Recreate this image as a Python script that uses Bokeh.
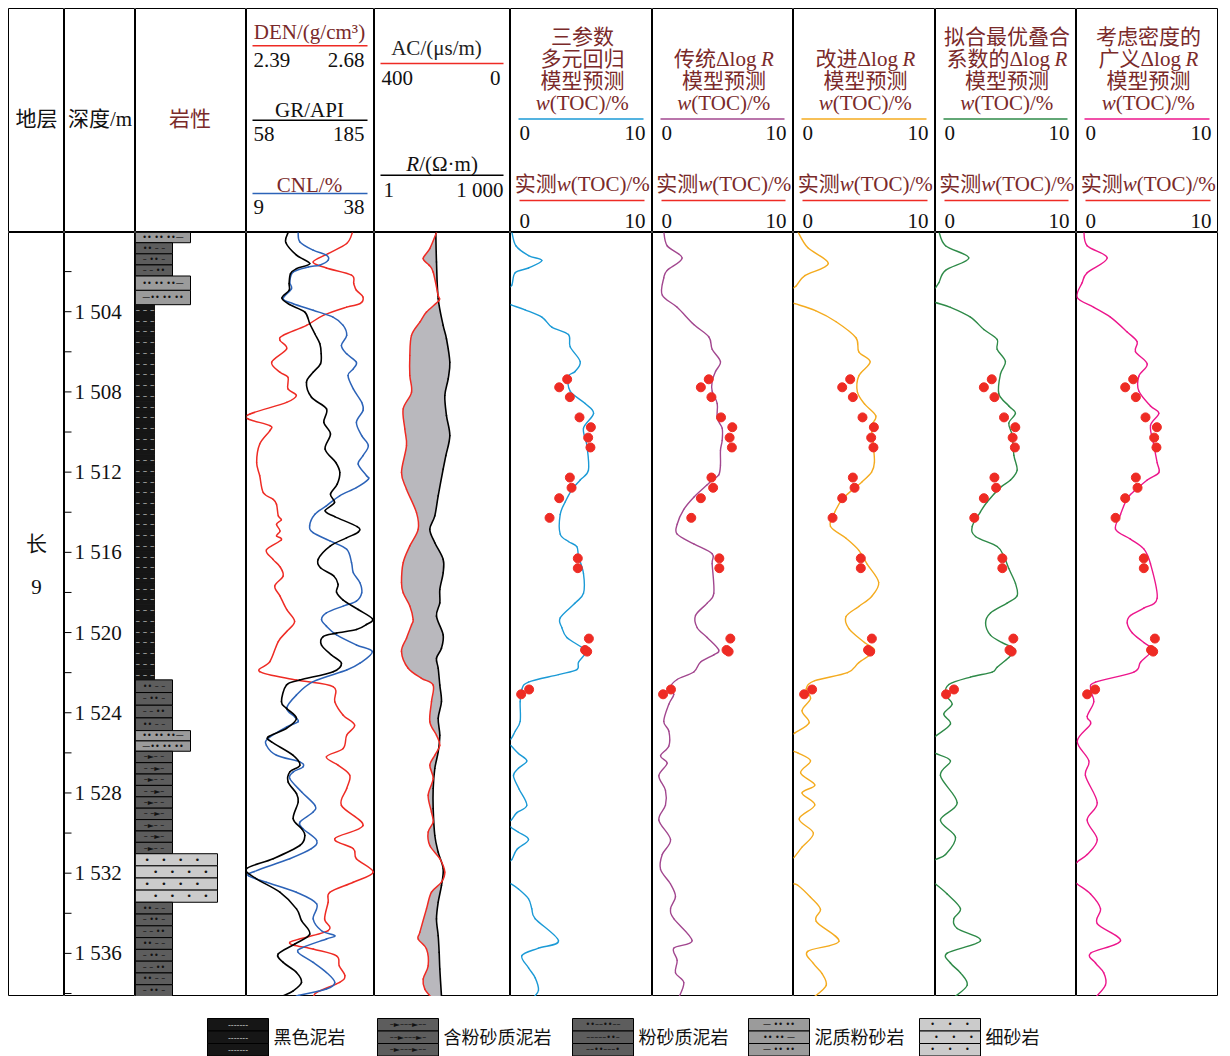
import numpy as np
from bokeh.plotting import figure
from bokeh.layouts import row, column
from bokeh.models import Range1d, LogScale
from bokeh.core.properties import value
from bokeh.embed import file_html
from bokeh.resources import INLINE

# ---------------- data ----------------
DEPTH_TOP, DEPTH_BOT = 1500.05, 1538.15
DEPTH_TICKS = list(range(1502, 1539, 2))
DEPTH_LABELS = list(range(1504, 1537, 4))

LITH_TOP = [1500.05, 1500.56, 1502.22, 1503.65, 1522.36, 1524.89, 1525.92, 1531.03, 1533.45]
LITH_BOT = [1500.56, 1502.22, 1503.65, 1522.36, 1524.89, 1525.92, 1531.03, 1533.45, 1538.15]
LITH_TYPE = ["泥质粉砂岩", "粉砂质泥岩", "泥质粉砂岩", "黑色泥岩", "粉砂质泥岩",
             "泥质粉砂岩", "含粉砂质泥岩", "细砂岩", "粉砂质泥岩"]
LEGEND_TYPES = ["黑色泥岩", "含粉砂质泥岩", "粉砂质泥岩", "泥质粉砂岩", "细砂岩"]

# (depth m, value)
GR = [(1500.05,99.3),(1500.55,97.0),(1501.18,107.6),(1501.60,120.8),(1501.85,107.6),(1502.10,101.7),
      (1502.60,100.3),(1502.93,100.3),(1503.32,93.1),(1503.65,101.0),(1504.02,115.9),(1504.60,120.8),
      (1505.10,125.8),(1505.60,130.8),(1506.10,132.1),(1506.60,131.4),(1507.02,124.1),(1507.52,117.5),
      (1508.27,122.5),(1508.85,137.4),(1509.52,134.7),(1510.10,141.3),(1510.85,136.0),(1511.52,146.6),
      (1512.02,150.6),(1512.60,148.0),(1513.10,141.3),(1513.52,145.3),(1513.93,136.0),(1514.22,145.6),
      (1514.72,167.8),(1514.98,169.1),(1515.28,157.2),(1515.68,141.3),(1516.35,129.1),(1516.77,131.4),
      (1517.18,144.6),(1517.60,148.9),(1517.98,147.3),(1518.38,153.9),(1518.85,168.8),(1519.32,183.0),
      (1519.60,177.0),(1519.85,167.1),(1520.03,147.3),(1520.20,134.1),(1520.62,132.4),(1521.12,142.3),
      (1521.53,152.2),(1521.95,144.0),(1522.37,110.9),(1522.62,97.7),(1523.45,92.7),(1523.78,97.7),
      (1524.28,107.6),(1524.78,97.7),(1525.20,79.5),(1525.45,82.8),(1526.12,104.3),(1526.62,110.9),
      (1526.95,101.0),(1527.45,99.3),(1528.03,107.6),(1528.45,109.3),(1529.28,104.3),(1529.78,112.6),
      (1530.12,115.9),(1530.62,110.9),(1531.28,84.5),(1531.78,58.0),(1532.28,67.9),(1532.95,91.1),
      (1533.78,107.6),(1534.37,112.6),(1535.03,120.8),(1535.53,106.0),(1536.03,89.4),(1536.45,94.4),
      (1536.95,107.6),(1537.45,112.6),(1537.87,104.3),(1538.12,94.4)]

CNL = [(1500.05,20.7),(1500.52,21.1),(1500.93,24.1),(1501.18,27.1),(1501.43,27.5),(1501.68,25.6),
       (1501.77,23.0),(1502.02,19.6),(1502.52,18.8),(1502.85,19.2),(1503.35,17.3),(1503.60,19.6),
       (1503.93,24.1),(1504.27,28.6),(1504.68,30.9),(1505.18,31.7),(1505.68,30.5),(1506.10,31.7),
       (1506.52,33.9),(1506.85,33.2),(1507.18,32.0),(1507.85,33.2),(1508.52,35.1),(1508.93,35.4),
       (1509.52,33.9),(1510.18,35.1),(1510.68,36.6),(1511.18,35.4),(1511.60,34.3),(1512.18,36.2),
       (1512.35,36.6),(1512.77,33.9),(1513.18,30.1),(1513.68,27.1),(1514.10,24.5),(1514.68,23.3),
       (1515.02,24.1),(1515.43,27.9),(1515.85,31.7),(1516.52,32.8),(1517.02,33.2),(1517.52,34.7),
       (1518.02,35.1),(1518.43,33.9),(1518.68,30.9),(1519.02,27.1),(1519.35,26.0),(1519.68,27.1),
       (1520.12,29.4),(1520.62,33.9),(1520.95,37.5),(1521.53,34.7),(1521.87,31.7),(1522.45,24.1),
       (1523.12,20.3),(1523.78,18.1),(1524.20,19.9),(1524.45,20.7),(1524.70,18.1),(1525.28,13.9),
       (1525.62,13.5),(1526.12,15.8),(1526.45,21.1),(1526.70,21.8),(1526.95,19.6),(1527.28,18.8),
       (1527.95,21.5),(1528.62,24.5),(1528.95,24.1),(1529.45,21.1),(1529.78,21.8),(1530.37,24.9),
       (1530.78,23.7),(1531.28,18.8),(1531.87,11.3),(1532.12,9.4),(1532.45,13.5),(1532.95,20.3),
       (1533.53,24.9),(1534.28,24.1),(1534.87,26.0),(1535.12,29.0),(1535.28,27.1),(1535.70,21.8),
       (1535.95,20.7),(1536.45,24.1),(1536.95,27.1),(1537.45,29.0),(1537.78,27.1),(1538.12,20.3)]

DEN = [(1500.05,2.630),(1500.60,2.617),(1501.10,2.575),(1501.52,2.541),(1501.82,2.571),(1502.18,2.628),
       (1502.60,2.633),(1502.93,2.639),(1503.27,2.654),(1503.60,2.647),(1503.77,2.617),(1504.18,2.564),
       (1504.68,2.526),(1505.18,2.473),(1505.43,2.466),(1505.85,2.481),(1506.52,2.447),(1507.02,2.466),
       (1507.27,2.484),(1507.85,2.484),(1508.18,2.503),(1508.52,2.481),(1509.10,2.398),(1509.35,2.394),
       (1509.68,2.443),(1509.93,2.443),(1510.60,2.420),(1511.52,2.413),(1512.18,2.420),(1513.02,2.428),
       (1513.35,2.450),(1513.60,2.458),(1514.18,2.462),(1514.38,2.469),(1514.60,2.458),(1514.93,2.466),
       (1515.18,2.458),(1515.38,2.469),(1515.88,2.435),(1516.35,2.450),(1516.72,2.466),(1517.18,2.473),
       (1517.68,2.454),(1518.18,2.466),(1518.85,2.481),(1519.45,2.499),(1519.95,2.481),(1520.45,2.462),
       (1521.45,2.443),(1521.95,2.420),(1522.37,2.503),(1522.70,2.586),(1523.45,2.590),(1524.12,2.609),
       (1524.62,2.635),(1525.12,2.617),(1525.78,2.609),(1526.20,2.571),(1526.62,2.598),(1527.12,2.624),
       (1527.78,2.617),(1528.62,2.605),(1529.62,2.654),(1530.28,2.590),(1530.78,2.632),(1531.28,2.639),
       (1531.95,2.677),(1532.45,2.632),(1532.95,2.579),(1533.45,2.575),(1534.28,2.567),(1534.87,2.575),
       (1535.45,2.488),(1535.78,2.541),(1536.12,2.594),(1536.62,2.600),(1537.12,2.613),(1537.45,2.601),
       (1537.95,2.549),(1538.28,2.541)]

AC = [(1500.05,217.7),(1500.85,237.3),(1501.35,256.9),(1501.68,239.2),(1502.02,227.5),(1503.18,212.8),
      (1503.43,209.9),(1504.02,247.1),(1504.52,266.7),(1505.18,291.2),(1506.18,296.1),(1507.18,296.1),
      (1508.02,291.2),(1508.85,315.7),(1509.85,310.8),(1510.68,305.9),(1512.02,320.6),(1512.85,305.9),
      (1514.02,276.5),(1514.85,271.6),(1515.68,296.1),(1516.52,315.7),(1517.52,320.6),(1518.02,315.7),
      (1518.68,296.1),(1519.35,286.3),(1519.62,291.2),(1520.28,305.9),(1520.95,320.6),(1521.78,301.0),
      (1522.28,261.8),(1522.62,227.5),(1523.45,232.4),(1524.45,237.3),(1525.12,217.7),(1525.62,207.9),
      (1526.12,222.6),(1526.62,237.3),(1527.28,227.5),(1528.12,242.2),(1528.95,232.4),(1529.45,227.5),
      (1529.95,242.2),(1530.62,237.3),(1531.28,207.9),(1531.95,193.2),(1532.45,203.0),(1532.95,232.4),
      (1533.78,247.1),(1534.95,266.7),(1535.28,271.6),(1535.78,247.1),(1536.62,242.2),(1537.28,256.9),
      (1537.78,252.0),(1538.20,232.4)]

RES = [(1500.05,22.5),(1501.52,23.3),(1503.35,25.4),(1504.68,32.7),(1505.35,38.7),(1506.52,45.9),
       (1507.35,42.2),(1508.18,35.6),(1509.18,38.7),(1510.18,45.9),(1511.18,37.5),(1511.85,32.7),
       (1513.18,25.4),(1514.18,21.4),(1514.85,16.6),(1515.52,21.4),(1516.35,32.7),(1517.02,32.7),
       (1517.85,27.6),(1518.52,27.6),(1519.18,23.3),(1520.12,32.7),(1520.78,30.0),(1521.28,23.3),
       (1521.78,25.4),(1522.62,27.6),(1523.45,30.0),(1524.28,25.4),(1525.12,27.6),(1525.95,25.4),
       (1526.78,21.4),(1527.78,19.7),(1528.78,19.7),(1530.12,21.4),(1530.95,25.4),(1531.78,32.7),
       (1532.62,30.0),(1533.45,25.4),(1534.28,23.3),(1535.12,25.4),(1535.95,26.7),(1536.78,27.6),
       (1538.12,30.0)]

TOC_MEAS_DEPTH = [1507.37, 1507.77, 1508.26, 1509.27, 1509.76, 1510.28, 1510.77, 1512.27, 1512.78,
                  1513.30, 1514.28, 1516.30, 1516.79, 1520.30, 1520.87, 1520.95, 1522.84, 1523.08]
TOC_MEAS = [3.99, 3.43, 4.18, 4.86, 5.66, 5.47, 5.63, 4.18, 4.30,
            3.43, 2.75, 4.74, 4.74, 5.52, 5.25, 5.40, 1.31, 0.75]

TOC_MLR = [(1500.0,0.09),(1500.71,0.38),(1501.20,1.27),(1501.45,2.21),(1501.82,1.27),(1502.06,0.33),
           (1502.68,0.09),(1502.92,-0.3),(1503.54,-0.3),(1503.66,0.05),(1503.91,1.03),(1504.27,2.21),
           (1504.77,2.91),(1505.14,4.08),(1505.75,4.20),(1506.49,4.91),(1506.98,4.55),(1507.22,4.08),
           (1507.96,4.20),(1508.58,5.26),(1509.07,5.85),(1509.81,5.14),(1510.67,5.38),(1511.90,5.49),
           (1512.39,4.91),(1512.88,4.32),(1513.49,3.85),(1514.11,3.50),(1515.09,3.50),(1515.46,4.08),
           (1515.71,4.67),(1516.20,4.79),(1517.06,5.14),(1518.04,5.14),(1518.53,4.55),(1519.27,3.50),
           (1519.76,3.62),(1520.25,3.97),(1520.74,5.02),(1520.99,5.31),(1521.48,4.79),(1521.85,4.67),
           (1522.10,3.38),(1522.47,1.27),(1522.83,0.80),(1523.45,0.68),(1524.43,0.68),(1524.92,0.33),
           (1525.29,0.05),(1525.46,-0.3),(1525.66,0.05),(1526.03,0.56),(1526.40,1.15),(1526.77,0.56),
           (1527.14,0.21),(1527.80,0.60),(1528.61,1.15),(1528.98,0.45),(1529.35,0.05),(1529.52,-0.3),
           (1529.72,0.05),(1529.96,0.56),(1530.33,1.27),(1530.82,0.45),(1531.32,0.09),(1531.56,-0.3),
           (1532.42,-0.3),(1532.54,0.05),(1532.79,0.56),(1533.28,1.27),(1533.77,1.50),(1534.27,1.74),
           (1535.37,3.38),(1535.74,1.97),(1536.11,0.80),(1536.72,1.27),(1537.22,1.74),(1537.83,1.97),
           (1538.20,1.62)]

TOC_DLOGR = [(1500.0,0.80),(1500.71,1.04),(1501.32,2.10),(1501.94,1.04),(1502.31,0.80),(1503.17,0.69),
             (1503.78,1.75),(1504.64,2.93),(1505.26,4.00),(1505.87,4.23),(1506.49,4.82),(1506.98,4.47),
             (1507.47,4.23),(1507.96,4.23),(1508.58,4.59),(1509.31,4.59),(1509.81,4.94),(1510.42,4.94),
             (1510.91,4.82),(1511.65,4.82),(1512.14,4.70),(1512.39,4.23),(1512.63,3.88),(1513.25,2.93),
             (1513.86,2.22),(1514.60,1.75),(1515.09,1.75),(1515.58,2.93),(1516.07,4.23),(1516.57,4.23),
             (1518.04,4.35),(1518.53,3.88),(1519.15,3.05),(1519.76,3.17),(1520.25,3.88),(1520.87,4.70),
             (1521.11,4.35),(1521.48,3.40),(1521.97,2.93),(1522.34,1.75),(1522.71,1.28),(1523.08,1.51),
             (1523.57,1.16),(1524.43,0.80),(1524.92,1.16),(1525.66,1.16),(1526.15,0.57),(1526.52,1.04),
             (1527.14,0.45),(1527.87,0.92),(1528.61,0.92),(1529.35,0.45),(1530.33,1.28),(1531.07,0.69),
             (1531.81,0.57),(1532.54,1.28),(1533.16,1.63),(1533.77,1.28),(1534.27,1.51),(1535.37,2.81),
             (1535.74,1.51),(1536.35,1.75),(1536.97,1.63),(1537.46,2.22),(1538.20,1.87)]

TOC_IMPROVED = [(1500.0,0.3),(1500.8,1.0),(1501.6,2.45),(1502.2,0.8),(1502.7,0.2),(1503.0,-0.3),
                (1503.5,-0.3),(1503.6,0.1),(1503.95,1.55),(1504.5,3.0),(1505.3,4.4),(1506.0,4.6),
                (1506.5,5.4),(1507.2,4.6),(1508.0,4.5),(1508.6,5.0),(1509.2,5.8),(1509.7,5.5),
                (1510.5,5.6),(1511.5,5.7),(1512.0,5.5),(1512.5,4.8),(1513.3,3.5),(1514.0,2.9),
                (1514.7,2.6),(1515.3,3.7),(1515.9,4.6),(1516.6,5.2),(1517.5,6.0),(1518.2,5.5),
                (1518.7,4.6),(1519.2,3.7),(1519.8,3.9),(1520.5,5.0),(1520.9,5.7),(1521.5,4.6),
                (1522.0,3.8),(1522.4,1.5),(1522.8,0.9),(1523.3,1.2),(1523.9,0.6),(1524.5,1.1),
                (1525.0,0.1),(1525.2,-0.3),(1525.8,-0.3),(1526.0,0.3),(1526.4,1.2),(1527.0,0.5),
                (1527.6,1.5),(1528.0,0.6),(1528.6,1.5),(1529.3,0.4),(1530.0,1.4),(1530.7,0.6),
                (1531.2,0.05),(1531.4,-0.3),(1532.4,-0.3),(1532.6,0.3),(1533.2,1.2),(1533.8,1.9),
                (1534.4,1.6),(1535.4,3.2),(1535.9,1.0),(1536.5,1.4),(1537.0,2.0),(1537.6,2.3),
                (1538.2,1.4)]

TOC_FIT = [(1500.0,0.24),(1500.71,0.71),(1501.32,2.36),(1501.94,0.71),(1502.55,0.24),(1502.80,0.0),
           (1503.05,-0.3),(1503.41,-0.3),(1503.54,0.0),(1503.78,1.06),(1504.27,2.48),(1504.89,3.43),
           (1505.38,4.37),(1505.87,4.37),(1506.49,4.96),(1507.10,4.61),(1508.09,4.49),(1508.70,5.20),
           (1509.07,5.67),(1509.56,5.20),(1510.17,5.44),(1511.16,5.56),(1511.90,5.79),(1512.39,5.32),
           (1512.76,4.61),(1513.49,3.66),(1513.98,3.19),(1514.72,2.60),(1515.21,2.84),(1515.71,4.37),
           (1516.20,4.85),(1516.81,5.20),(1517.55,5.67),(1518.16,5.79),(1518.53,5.08),(1519.02,3.90),
           (1519.52,3.55),(1520.13,3.90),(1520.50,4.73),(1520.87,5.67),(1521.24,5.20),(1521.73,4.37),
           (1521.97,4.02),(1522.22,2.48),(1522.59,0.95),(1523.08,0.71),(1523.57,1.18),(1524.06,0.59),
           (1524.56,1.06),(1525.17,0.0),(1525.42,-0.3),(1525.91,-0.3),(1526.03,0.0),(1526.40,1.06),
           (1527.14,0.35),(1528.49,1.54),(1529.35,0.35),(1530.21,1.42),(1531.07,0.71),(1531.32,0.0),
           (1531.56,-0.3),(1532.42,-0.3),(1532.54,0.0),(1533.04,0.83),(1533.77,1.77),(1534.27,1.30),
           (1534.76,1.54),(1535.37,3.19),(1535.99,0.83),(1536.48,1.06),(1536.97,1.77),(1537.58,2.25),
           (1538.20,1.30)]

TOC_GEN = [(1500.0,0.52),(1500.71,0.75),(1501.32,2.16),(1502.06,0.75),(1502.55,0.40),(1503.29,0.05),
           (1503.78,1.22),(1504.27,2.39),(1505.01,3.57),(1505.50,4.27),(1505.99,4.15),(1506.61,4.98),
           (1507.22,4.39),(1507.96,4.39),(1508.70,5.21),(1509.07,5.80),(1509.68,5.21),(1510.67,5.45),
           (1511.53,5.68),(1512.02,5.80),(1512.39,4.98),(1513.12,3.80),(1513.49,3.45),(1514.11,3.10),
           (1514.85,2.75),(1515.34,3.80),(1515.83,4.74),(1516.57,5.21),(1518.29,5.68),(1518.78,4.74),
           (1519.15,3.80),(1519.52,3.57),(1520.01,3.92),(1520.50,4.74),(1520.87,5.33),(1521.48,4.51),
           (1521.97,4.04),(1522.47,1.34),(1522.83,0.99),(1523.45,1.22),(1524.19,0.75),(1524.56,0.99),
           (1525.42,0.05),(1526.40,0.87),(1527.14,0.63),(1528.49,1.46),(1529.35,0.75),(1530.33,1.46),
           (1531.07,0.75),(1531.44,0.05),(1531.81,-0.3),(1532.30,-0.3),(1532.54,0.05),(1533.04,0.99),
           (1533.77,1.69),(1534.51,1.46),(1535.37,3.10),(1535.99,0.99),(1536.48,1.34),(1536.97,1.92),
           (1537.58,2.04),(1538.20,1.34)]

# ---------------- style ----------------
FONT = "Liberation Serif, Noto Sans CJK SC"
PFONT = "DejaVu Sans"
MAROON = "#7a2a2a"
RED = "#ee2b24"
BLUE = "#2c63b8"
TOC_COLORS = ["#1b9ad6", "#a2478f", "#f4ab1f", "#2e8a48", "#ec168c"]
COLW = [56, 71, 111, 128, 136, 142, 141, 142, 141, 142]
HH, DH = 224, 764

CW = {'(': .333, ')': .333, '/': .278, '%': .833, 'T': .611, 'O': .722, 'C': .667, 'w': .667,
      'R': .611, 'Δ': .612, 'l': .278, 'o': .5, 'g': .5, ' ': .25, '.': .25, 'Ω': .768, '·': .25,
      'm': .778, 'A': .722, 'P': .556, 'I': .333, 'G': .722, 'D': .722, 'E': .611, 'N': .722,
      'L': .611, 'c': .444, 'μ': .5, 's': .389, '³': .3}


def tw(s, size):
    return sum(1.0 if ord(ch) > 0x2E7F else CW.get(ch, 0.5) for ch in s) * size


def mk(w, h, xr, yr):
    p = figure(width=w, height=h, x_range=xr, y_range=yr, x_axis_type=None, y_axis_type=None,
               toolbar_location=None, output_backend="svg", min_border=0,
               outline_line_color="black", outline_line_width=1)
    return p


def txt(p, x, y, s, size=21, color="#111111", align="center", italic=False, font=FONT, bold=False):
    p.text(x=[x], y=[y], text=[s], text_align=align, text_baseline="middle",
           text_font=value(font), text_font_size=f"{size}px", text_color=color,
           text_font_style=("italic" if italic else ("bold" if bold else "normal")))


def rich(p, cx, y, segs, size=21, color=MAROON):
    widths = [tw(s, size) for s, _ in segs]
    x = cx - sum(widths) / 2
    for (s, it), wd in zip(segs, widths):
        txt(p, x, y, s, size, color, "left", it)
        x += wd


def hline(p, y, x0, x1, color, width=1.5):
    p.segment(x0=[x0], y0=[y], x1=[x1], y1=[y], line_color=color, line_width=width)


def unzip(pairs):
    d = np.array([a for a, _ in pairs], float)
    v = np.array([b for _, b in pairs], float)
    return d, v


def ctrl(X):
    """Catmull-Rom style Bezier control points through the given points."""
    n = len(X)
    Xp = np.concatenate([[X[0]], X, [X[-1]]])
    c0 = X[:-1] + (Xp[2:n + 1] - Xp[0:n - 1]) / 6.0
    c1 = X[1:] - (Xp[3:n + 2] - Xp[1:n]) / 6.0
    return X[:-1], X[1:], c0, c1


def curve(p, vals, depths, color, width, log=False, **kw):
    V = np.log10(vals) if log else vals
    x0, x1, cx0, cx1 = ctrl(V)
    y0, y1, cy0, cy1 = ctrl(depths)
    if log:
        x0, x1, cx0, cx1 = (10 ** a for a in (x0, x1, cx0, cx1))
    p.bezier(x0=x0, y0=y0, x1=x1, y1=y1, cx0=cx0, cy0=cy0, cx1=cx1, cy1=cy1,
             line_color=color, line_width=width, line_cap="round", **kw)


def dense(V, D, steps=8):
    x0, x1, cx0, cx1 = ctrl(V)
    y0, y1, cy0, cy1 = ctrl(D)
    t = np.linspace(0, 1, steps, endpoint=False)[:, None]
    bx = ((1 - t) ** 3 * x0 + 3 * (1 - t) ** 2 * t * cx0 + 3 * (1 - t) * t ** 2 * cx1 + t ** 3 * x1).T.ravel()
    by = ((1 - t) ** 3 * y0 + 3 * (1 - t) ** 2 * t * cy0 + 3 * (1 - t) * t ** 2 * cy1 + t ** 3 * y1).T.ravel()
    return np.append(bx, V[-1]), np.append(by, D[-1])


NB = "\u00a0"
LSTYLE = {
    "黑色泥岩": dict(w=19, fill="#161616", pats=["–" + NB + "–" + NB + "–"], pc="#c4c4c4", border=False, rh=0.53, size=9),
    "含粉砂质泥岩": dict(w=37, fill="#5d5d5d", pats=["–►–" + NB + "–", "–" + NB + "–►–"], pc="#111111", border=True, rh=0.6, size=8),
    "粉砂质泥岩": dict(w=37, fill="#5d5d5d", pats=["••" + NB + "–" + NB + "–", "–" + NB + "••" + NB + "–", "–" + NB + "–" + NB + "••"], pc="#111111", border=True, rh=0.6, size=8),
    "泥质粉砂岩": dict(w=55, fill="#9b9b9b", pats=["••" + NB + "••" + NB + "••—", "—••" + NB + "••" + NB + "••"], pc="#111111", border=True, rh=0.6, size=8),
    "细砂岩": dict(w=82, fill="#cbcbcb", pats=["•" + NB * 4 + "•" + NB * 4 + "•" + NB * 4 + "•" + NB * 3,
                                             NB * 3 + "•" + NB * 4 + "•" + NB * 4 + "•" + NB * 4 + "•"],
                pc="#111111", border=True, rh=0.6, size=9),
}


def lith_block(p, x0, x1, t, b, n, st, start=0):
    edges = np.linspace(t, b, n + 1)
    p.quad(left=x0, right=x1, top=edges[:-1], bottom=edges[1:], fill_color=st["fill"],
           line_color=("black" if st["border"] else st["fill"]), line_width=1)
    mids = (edges[:-1] + edges[1:]) / 2
    texts = [st["pats"][(i + start) % len(st["pats"])] for i in range(n)]
    p.text(x=[(x0 + x1) / 2] * n, y=mids, text=texts, text_align="center", text_baseline="middle",
           text_font=value(PFONT), text_font_size=f"{st['size']}px", text_color=st["pc"])


YR = Range1d(start=DEPTH_BOT, end=DEPTH_TOP)

headers, datas = [], []

# ---- column 0: stratum
h = mk(COLW[0], HH, Range1d(0, COLW[0]), Range1d(HH, 0))
txt(h, COLW[0] / 2, 110, "地层")
d = mk(COLW[0], DH, Range1d(0, COLW[0]), YR)
txt(d, COLW[0] / 2, 1515.6, "长")
txt(d, COLW[0] / 2, 1517.75, "9")
headers.append(h); datas.append(d)

# ---- column 1: depth
h = mk(COLW[1], HH, Range1d(0, COLW[1]), Range1d(HH, 0))
txt(h, 35.5, 110, "深度/m")
d = mk(COLW[1], DH, Range1d(0, COLW[1]), YR)
d.segment(x0=0, x1=7, y0=DEPTH_TICKS, y1=DEPTH_TICKS, line_color="black", line_width=1)
d.text(x=[10] * len(DEPTH_LABELS), y=DEPTH_LABELS,
       text=[f"{v // 1000}{NB}{v % 1000:03d}" for v in DEPTH_LABELS],
       text_align="left", text_baseline="middle", text_font=value(FONT),
       text_font_size="21px", text_color="#111111")
headers.append(h); datas.append(d)

# ---- column 2: lithology
h = mk(COLW[2], HH, Range1d(0, COLW[2]), Range1d(HH, 0))
txt(h, 54.5, 110, "岩性", color=MAROON)
d = mk(COLW[2], DH, Range1d(0, COLW[2]), YR)
for t, b, ty in zip(LITH_TOP, LITH_BOT, LITH_TYPE):
    st = LSTYLE[ty]
    n = max(1, int(round((b - t) / st["rh"])))
    lith_block(d, 0, st["w"], t, b, n, st)
headers.append(h); datas.append(d)

# ---- column 3: DEN / GR / CNL
w = COLW[3]
h = mk(w, HH, Range1d(0, w), Range1d(HH, 0))
txt(h, 63, 23, "DEN/(g/cm³)", color=MAROON)
hline(h, 37.3, 6, 121, RED)
txt(h, 7, 51.7, "2.39", align="left"); txt(h, 118, 51.7, "2.68", align="right")
txt(h, 63, 101.7, "GR/API")
hline(h, 111.7, 6, 121, "black")
txt(h, 7, 125, "58", align="left"); txt(h, 118, 125, "185", align="right")
txt(h, 63, 176.7, "CNL/%", color=MAROON)
hline(h, 185, 6, 121, BLUE)
txt(h, 7, 198, "9", align="left"); txt(h, 118, 198, "38", align="right")
d = mk(w, DH, Range1d(2.39, 2.68), YR)
d.extra_x_ranges = {"gr": Range1d(58, 185), "cnl": Range1d(9, 38)}
dd, vv = unzip(DEN)
curve(d, vv, dd, RED, 1.5)
dd, vv = unzip(CNL)
curve(d, vv, dd, BLUE, 1.5, x_range_name="cnl")
dd, vv = unzip(GR)
curve(d, vv, dd, "black", 1.6, x_range_name="gr")
headers.append(h); datas.append(d)

# ---- column 4: AC / R
w = COLW[4]
h = mk(w, HH, Range1d(0, w), Range1d(HH, 0))
txt(h, 62, 39.3, "AC/(μs/m)", color="#222222")
hline(h, 55, 6, 129, RED)
txt(h, 7, 69, "400", align="left"); txt(h, 126, 69, "0", align="right")
rich(h, 67, 155, [("R", True), ("/(Ω·m)", False)], color="#111111")
hline(h, 166.7, 6, 129, "black")
txt(h, 9, 181.7, "1", align="left"); txt(h, 129, 181.7, f"1{NB}000", align="right")
d = mk(w, DH, Range1d(400, 0), YR)
d.extra_x_ranges = {"r": Range1d(1, 1000)}
d.extra_x_scales = {"r": LogScale()}
ad, av = unzip(AC)
rd, rv = unzip(RES)
# AC expressed on the resistivity (log) scale of the same track, for the shaded overlap
ac_lr = 3 * (400 - av) / 400
fa_x, fa_y = dense(ac_lr, ad)
fr_x, fr_y = dense(np.log10(rv), rd)
d.patch(list(10 ** fa_x) + list(10 ** fr_x[::-1]), list(fa_y) + list(fr_y[::-1]),
        fill_color="#b9b8bd", line_color=None, x_range_name="r")
curve(d, rv, rd, "black", 1.6, log=True, x_range_name="r")
curve(d, av, ad, RED, 1.5)
headers.append(h); datas.append(d)

# ---- TOC columns
TITLES = [
    [[("三参数", False)], [("多元回归", False)], [("模型预测", False)]],
    [[("传统Δlog ", False), ("R", True)], [("模型预测", False)]],
    [[("改进Δlog ", False), ("R", True)], [("模型预测", False)]],
    [[("拟合最优叠合", False)], [("系数的Δlog ", False), ("R", True)], [("模型预测", False)]],
    [[("考虑密度的", False)], [("广义Δlog ", False), ("R", True)], [("模型预测", False)]],
]
CURVES = [TOC_MLR, TOC_DLOGR, TOC_IMPROVED, TOC_FIT, TOC_GEN]
for k in range(5):
    w = COLW[5 + k]
    h = mk(w, HH, Range1d(0, w), Range1d(HH, 0))
    lines = TITLES[k] + [[("w", True), ("(TOC)/%", False)]]
    ys = [94 - 22 * (len(lines) - 1 - i) for i in range(len(lines))]
    for segs, y in zip(lines, ys):
        rich(h, w / 2 + 1, y, segs)
    hline(h, 110.5, 8, w - 9, TOC_COLORS[k])
    txt(h, 9, 124, "0", align="left"); txt(h, w - 7, 124, "10", align="right")
    rich(h, w / 2 + 1, 175, [("实测", False), ("w", True), ("(TOC)/%", False)])
    hline(h, 192, 9, w - 8, RED)
    txt(h, 9, 212, "0", align="left"); txt(h, w - 7, 212, "10", align="right")

    d = mk(w, DH, Range1d(0, 10), YR)
    dd, vv = unzip(CURVES[k])
    curve(d, vv, dd, TOC_COLORS[k], 1.4)
    d.scatter(TOC_MEAS, TOC_MEAS_DEPTH, size=9, marker="circle", fill_color=RED, line_color=RED)
    headers.append(h); datas.append(d)

# ---- legend
LW, LH = sum(COLW), 60
lg = figure(width=LW, height=LH, x_range=Range1d(0, LW), y_range=Range1d(LH, 0),
            x_axis_type=None, y_axis_type=None, toolbar_location=None, output_backend="svg",
            min_border=0, outline_line_color=None)
SW_X = [199, 369, 564, 740, 911]
LEG_PATS = {
    "黑色泥岩": ["-" * 7, "-" * 7, "-" * 7],
    "含粉砂质泥岩": ["–►–––►––", "––►–––►–", "–►–––►––"],
    "粉砂质泥岩": ["••––••––", "–––––••–", "––••–––•"],
    "泥质粉砂岩": ["—" + NB + "••" + NB + "••", "••" + NB + "••" + NB + "—", "—" + NB + "••" + NB + "••"],
    "细砂岩": ["•" + NB * 5 + "•" + NB * 5 + "•", NB * 3 + "•" + NB * 5 + "•" + NB * 5 + "•", "•" + NB * 5 + "•" + NB * 5 + "•"],
}
for sx, ty in zip(SW_X, LEGEND_TYPES):
    st = dict(LSTYLE[ty])
    st["pats"] = LEG_PATS[ty]
    st["border"] = True
    st["size"] = 8
    lith_block(lg, sx, sx + 61, 22, 59.5, 3, st)
    txt(lg, sx + 66, 41, ty, size=18, align="left")

layout = column(row(*headers, spacing=0), row(*datas, spacing=0), lg, spacing=0,
                margin=(8, 8, 0, 8))
open("out.html", "w").write(file_html(layout, INLINE, title="well log"))
